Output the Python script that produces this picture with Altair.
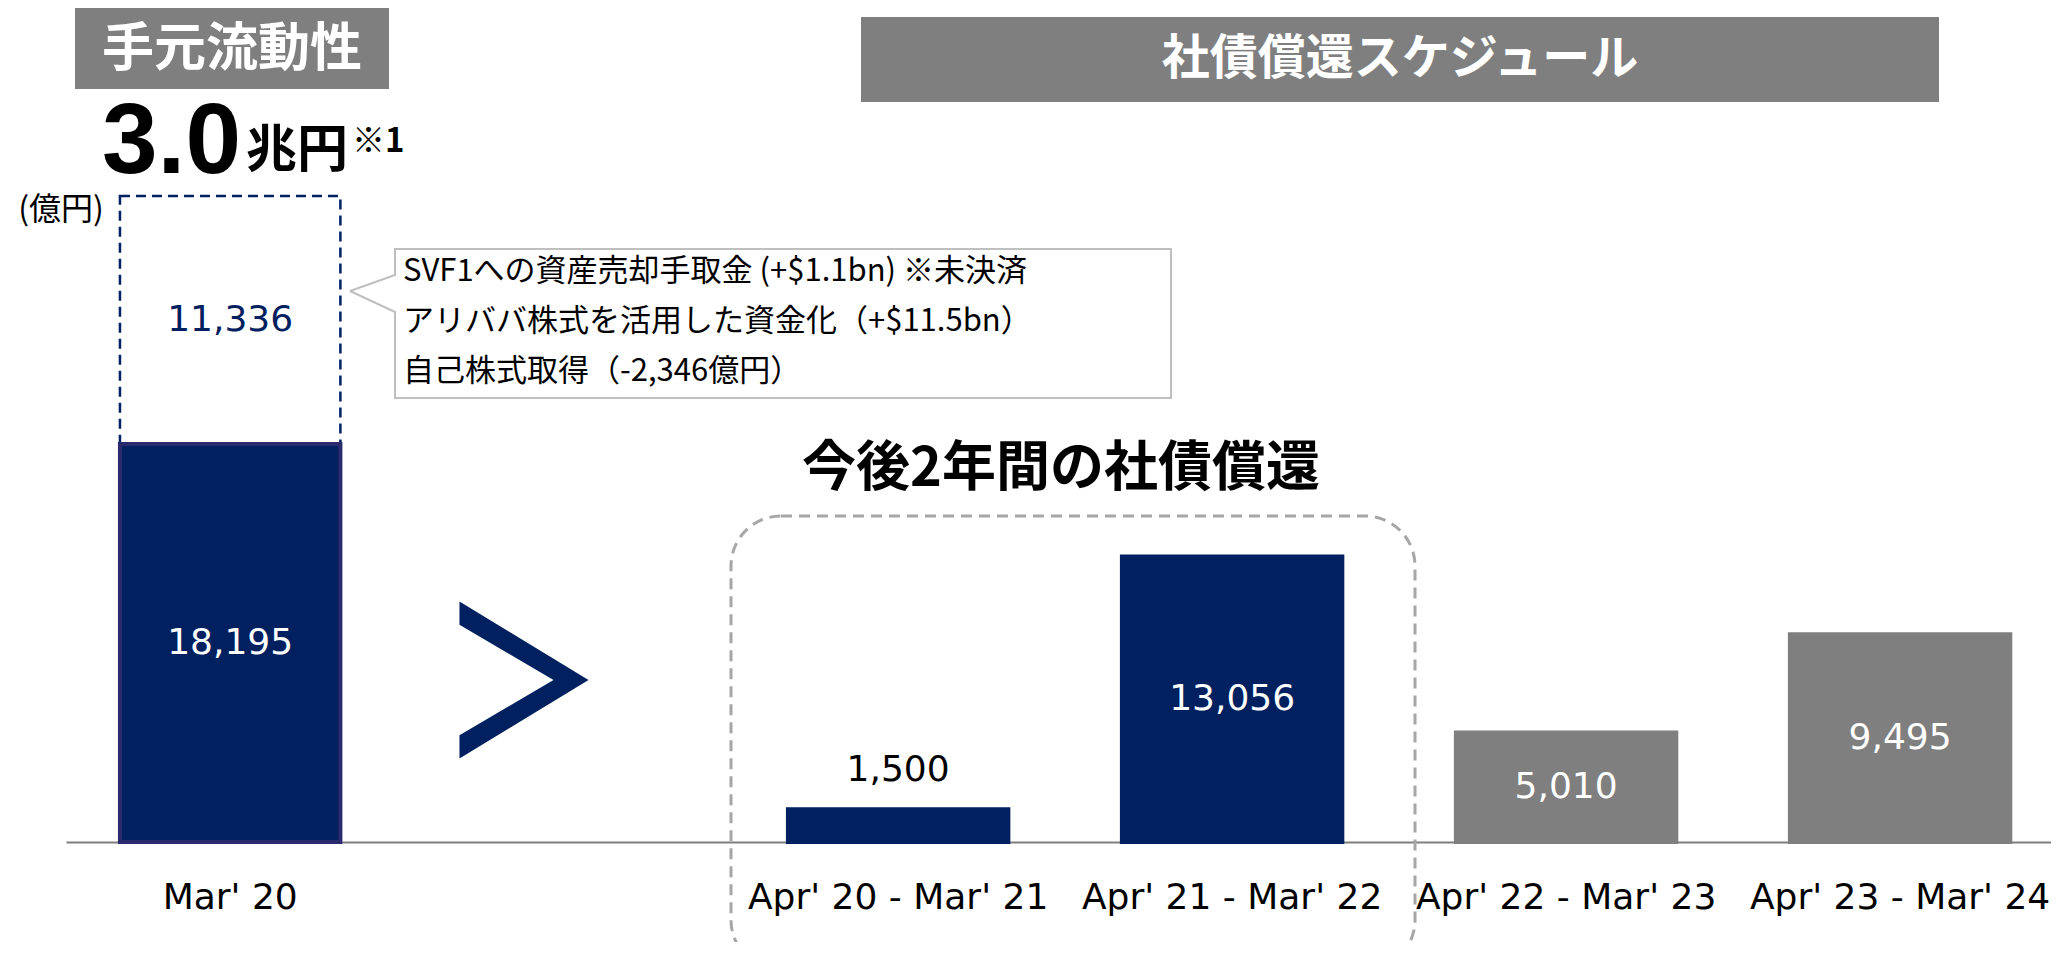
import altair as alt
import pandas as pd

# ---------------- data ----------------
categories = ["Mar' 20", " ", "Apr' 20 - Mar' 21", "Apr' 21 - Mar' 22",
              "Apr' 22 - Mar' 23", "Apr' 23 - Mar' 24"]
bar_cats = ["Mar' 20", "Apr' 20 - Mar' 21", "Apr' 21 - Mar' 22",
            "Apr' 22 - Mar' 23", "Apr' 23 - Mar' 24"]
bar_values = [18195, 1500, 13056, 5010, 9495]
bar_fills = ["#002060", "#002060", "#002060", "#7F7F7F", "#7F7F7F"]
bar_strokes = ["#2B2A6E", "#002060", "#002060", "#7F7F7F", "#7F7F7F"]
label_colors = ["white", "black", "white", "white", "white"]
label_inside = [True, False, True, True, True]

extra_cat = "Mar' 20"
extra_value = 11336

callout_lines = ["SVF1への資産売却手取金 (+$1.1bn) ※未決済",
                 "アリババ株式を活用した資金化（+$11.5bn）",
                 "自己株式取得（-2,346億円）"]

NAVY = "#002060"
GREY = "#7F7F7F"
JP = "Noto Sans CJK JP"
NUM = "DejaVu Sans"

# plot origin on the page (after 8px body margin + padding)
PAD_L, PAD_T = 58, 2
OX, OY = 8 + PAD_L, 8 + PAD_T
W, H = 1985, 832
PX_PER_UNIT = 0.021874
YMAX = H / PX_PER_UNIT

bars = pd.DataFrame({"cat": bar_cats, "y0": [0] * 5, "y1": bar_values,
                     "fill": bar_fills, "stroke": bar_strokes})
labels = pd.DataFrame({
    "cat": bar_cats,
    "y": [v / 2 if inside else v for v, inside in zip(bar_values, label_inside)],
    "txt": [f"{v:,}" for v in bar_values],
    "col": label_colors,
    "inside": label_inside,
})
extra = pd.DataFrame({"cat": [extra_cat], "y0": [bar_values[0]],
                      "y1": [bar_values[0] + extra_value],
                      "ym": [bar_values[0] + extra_value / 2],
                      "txt": [f"{extra_value:,}"]})
dummy = pd.DataFrame({"d": [0]})

xenc = alt.X("cat:N", sort=categories,
             scale=alt.Scale(domain=categories, paddingInner=0.34,
                             paddingOuter=0.1417, align=0.57),
             axis=alt.Axis(title=None, labelAngle=0, labelFont=NUM,
                           labelFontSize=36, labelColor="black", ticks=False,
                           tickSize=0, domainColor=GREY, domainWidth=2,
                           labelPadding=38, labelOverlap=False, labelLimit=600,
                           grid=False))
yscale = alt.Scale(domain=[0, YMAX], nice=False, zero=True)

# dashed stacked segment (Mar'20)
seg = alt.Chart(extra).mark_bar(fill="white", stroke=NAVY, strokeWidth=2.5,
                                strokeDash=[10, 6]).encode(
    x=xenc, y=alt.Y("y0:Q", scale=yscale, axis=None), y2="y1:Q")

bar_layer = alt.Chart(bars).mark_bar(strokeWidth=4).encode(
    x=xenc, y=alt.Y("y0:Q", scale=yscale, axis=None), y2="y1:Q",
    fill=alt.Fill("fill:N", scale=None), stroke=alt.Stroke("stroke:N", scale=None))

lab_in = alt.Chart(labels).transform_filter("datum.inside").mark_text(
    font=NUM, fontSize=36, baseline="middle").encode(
    x=xenc, y=alt.Y("y:Q", scale=yscale, axis=None), text="txt:N",
    color=alt.Color("col:N", scale=None))
lab_out = alt.Chart(labels).transform_filter("!datum.inside").mark_text(
    font=NUM, fontSize=36, baseline="middle", dy=-39).encode(
    x=xenc, y=alt.Y("y:Q", scale=yscale, axis=None), text="txt:N",
    color=alt.Color("col:N", scale=None))
lab_extra = alt.Chart(extra).mark_text(
    font=NUM, fontSize=36, baseline="middle", color=NAVY).encode(
    x=xenc, y=alt.Y("ym:Q", scale=yscale, axis=None), text="txt:N")

# ---------------- decorations (page coordinates) ----------------
def box(x1, x2, y1, y2, **kw):
    return alt.Chart(dummy).mark_rect(**kw).encode(
        x=alt.value(x1 - OX), x2=alt.value(x2 - OX),
        y=alt.value(y1 - OY), y2=alt.value(y2 - OY))

def txt(s, x, y, **kw):
    return alt.Chart(dummy).mark_text(text=s, **kw).encode(
        x=alt.value(x - OX), y=alt.value(y - OY))

def rule(x1, y1, x2, y2, **kw):
    return alt.Chart(dummy).mark_rule(**kw).encode(
        x=alt.value(x1 - OX), y=alt.value(y1 - OY),
        x2=alt.value(x2 - OX), y2=alt.value(y2 - OY))

title_box1 = box(75, 389, 8, 89, fill=GREY)
title_txt1 = txt("手元流動性", 232, 50, font=JP, fontSize=52, fontWeight="bold",
                 color="white", baseline="middle", align="center")
big_num = txt("3.0", 102, 173, font="Liberation Sans", fontSize=100,
              fontWeight="bold", color="black", baseline="alphabetic", align="left")
big_unit = txt("兆円", 246, 167, font=JP, fontSize=51, fontWeight="bold",
               color="black", baseline="alphabetic", align="left")
big_note = txt("※1", 352, 152, font=JP, fontSize=33, fontWeight="bold",
               color="black", baseline="alphabetic", align="left")
unit_txt = txt("(億円)", 61, 210, font=JP, fontSize=32, color="black",
               baseline="middle", align="center")

title_box2 = box(861, 1939, 17, 102, fill=GREY)
title_txt2 = txt("社債償還スケジュール", 1400, 60, font=JP, fontSize=48,
                 fontWeight="bold", color="white", baseline="middle", align="center")

CALL = "#BFBFBF"
callout_box = box(395, 1171, 249, 398, fill="white", stroke=CALL, strokeWidth=2)
callout_cover = rule(395, 276, 395, 311, color="white", strokeWidth=4)
callout_p1 = rule(395, 275, 350, 291, color=CALL, strokeWidth=2)
callout_p2 = rule(350, 291, 395, 312, color=CALL, strokeWidth=2)
callout_txt = [txt(s, 403, 272 + 50 * i, font=JP, fontSize=31, color="black",
                   baseline="middle", align="left")
               for i, s in enumerate(callout_lines)]

chev_path = "M-0.822,-1L0.822,0L-0.822,1L-0.822,0.705L0.376,0L-0.822,-0.705Z"
chevron = alt.Chart(dummy).mark_point(shape=chev_path, filled=True, size=24649,
                                      color=NAVY, opacity=1, strokeWidth=0).encode(
    x=alt.value(524 - OX), y=alt.value(680 - OY))

sub_title = txt("今後2年間の社債償還", 1061, 470, font=JP, fontSize=54,
                fontWeight="bold", color="black", baseline="middle", align="center")
round_box = box(731, 1415, 516, 970, fill="white", fillOpacity=0,
                stroke="#A6A6A6", strokeWidth=3, strokeDash=[11, 7], cornerRadius=50)

chart = alt.layer(
    title_box1, title_box2, round_box, seg, bar_layer, lab_in, lab_out, lab_extra,
    title_txt1, title_txt2, big_num, big_unit, big_note, unit_txt,
    callout_box, callout_cover, callout_p1, callout_p2, *callout_txt,
    chevron, sub_title,
).properties(
    width=W, height=H, background="white",
    autosize=alt.AutoSizeParams(type="none"),
    padding={"left": PAD_L, "top": PAD_T, "right": 0, "bottom": 100},
).configure_view(stroke="transparent", strokeWidth=0)

chart.save("out.html", embed_options={"renderer": "svg", "actions": False})
